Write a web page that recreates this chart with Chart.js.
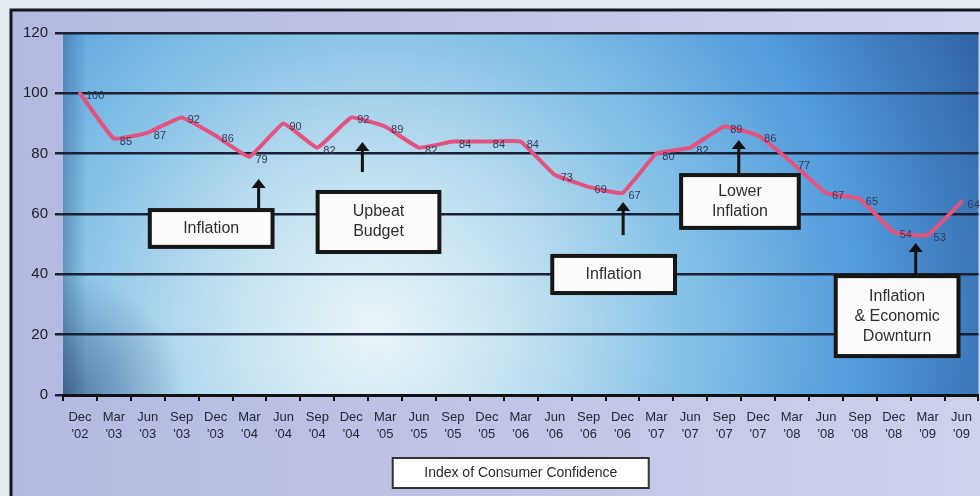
<!DOCTYPE html>
<html>
<head>
<meta charset="utf-8">
<script src="https://cdn.jsdelivr.net/npm/chart.js@4.4.1/dist/chart.umd.min.js"></script>
<style>
    html, body { margin: 0; padding: 0; background: #e3eaf1; }
</style>
</head>
<body>
<canvas id="confidence-chart" width="980" height="496"></canvas>
<script>
const months = ["Dec", "Mar", "Jun", "Sep", "Dec", "Mar", "Jun", "Sep", "Dec", "Mar", "Jun", "Sep", "Dec", "Mar",
    "Jun", "Sep", "Dec", "Mar", "Jun", "Sep", "Dec", "Mar", "Jun", "Sep", "Dec", "Mar", "Jun"];
const years = ["'02", "'03", "'03", "'03", "'03", "'04", "'04", "'04", "'04", "'05", "'05", "'05", "'05", "'06",
    "'06", "'06", "'06", "'07", "'07", "'07", "'07", "'08", "'08", "'08", "'08", "'09", "'09"];
const confidence = [100, 85, 87, 92, 86, 79, 90, 82, 92, 89, 82, 84, 84, 84, 73, 69, 67, 80, 82, 89, 86, 77, 67, 65, 54, 53, 64];
const seriesName = "Index of Consumer Confidence";

// callout boxes, placed in axis units (category index / index value)
const notes = [
    { lines: ["Inflation"], from: 2.06, to: 5.68, top: 61.3, bottom: 49.1, arrowAt: 5.27, arrowFrom: 61.3, arrowTo: 71.6 },
    { lines: ["Upbeat", "Budget"], from: 7.01, to: 10.6, top: 67.3, bottom: 47.4, arrowAt: 8.33, arrowFrom: 73.9, arrowTo: 83.9 },
    { lines: ["Inflation"], from: 13.93, to: 17.55, top: 46.1, bottom: 33.8, arrowAt: 16.02, arrowFrom: 53.0, arrowTo: 64.0 },
    { lines: ["Lower", "Inflation"], from: 17.73, to: 21.2, top: 72.9, bottom: 55.4, arrowAt: 19.43, arrowFrom: 72.9, arrowTo: 84.5 },
    { lines: ["Inflation", "& Economic", "Downturn"], from: 22.29, to: 25.91, top: 39.4, bottom: 12.9, arrowAt: 24.65, arrowFrom: 39.4, arrowTo: 50.4 }
];

const fontFamily = "'Liberation Sans', Arial, sans-serif";

const backdrop = {
    id: "backdrop",
    beforeDraw(chart) {
        const ctx = chart.ctx;
        const a = chart.chartArea;
        const w = a.right - a.left;
        const h = a.bottom - a.top;
        ctx.save();
        ctx.fillStyle = "#e3eaf1";
        ctx.fillRect(0, 0, chart.width, chart.height);

        const lav = ctx.createLinearGradient(11, 0, chart.width, 0);
        lav.addColorStop(0, "#b3b9e1");
        lav.addColorStop(1, "#cdd1ea");
        ctx.fillStyle = lav;
        ctx.fillRect(11, 10, chart.width - 11, chart.height - 10);

        ctx.strokeStyle = "#15171f";
        ctx.lineWidth = 3;
        ctx.beginPath();
        ctx.moveTo(11, chart.height);
        ctx.lineTo(11, 10);
        ctx.lineTo(chart.width, 10);
        ctx.stroke();

        const cx = a.left + w * 0.34;
        const cy = a.top + h * 0.82;
        const glow = ctx.createRadialGradient(cx, cy, 0, cx, cy, 700);
        glow.addColorStop(0, "#e9f4f8");
        glow.addColorStop(0.2, "#c6e3f1");
        glow.addColorStop(0.45, "#84c1e7");
        glow.addColorStop(0.7, "#519adc");
        glow.addColorStop(1, "#2b5b9c");
        ctx.fillStyle = glow;
        ctx.fillRect(a.left, a.top, w, h);

        // darker corner at the bottom left
        const corner = ctx.createRadialGradient(a.left, a.bottom, 0, a.left, a.bottom, 120);
        corner.addColorStop(0, "rgba(35,60,105,0.55)");
        corner.addColorStop(1, "rgba(35,60,105,0)");
        ctx.fillStyle = corner;
        ctx.fillRect(a.left, a.top, w, h);

        const shade = ctx.createLinearGradient(a.left, 0, a.left + 24, 0);
        shade.addColorStop(0, "rgba(25,50,95,0.3)");
        shade.addColorStop(1, "rgba(25,50,95,0)");
        ctx.fillStyle = shade;
        ctx.fillRect(a.left, a.top, 24, h);
        ctx.restore();
    }
};

const pointLabels = {
    id: "pointLabels",
    afterDatasetsDraw(chart) {
        const ctx = chart.ctx;
        const meta = chart.getDatasetMeta(0);
        ctx.save();
        ctx.font = "11px " + fontFamily;
        ctx.fillStyle = "#353a55";
        ctx.textAlign = "left";
        ctx.textBaseline = "middle";
        meta.data.forEach((pt, i) => {
            ctx.fillText(String(confidence[i]), pt.x + 6, pt.y + 3);
        });
        ctx.restore();
    }
};

const callouts = {
    id: "callouts",
    afterDraw(chart) {
        const ctx = chart.ctx;
        const xs = chart.scales.x;
        const ys = chart.scales.y;
        ctx.save();
        notes.forEach(n => {
            const left = xs.getPixelForValue(n.from);
            const right = xs.getPixelForValue(n.to);
            const top = ys.getPixelForValue(n.top);
            const bottom = ys.getPixelForValue(n.bottom);

            // arrow
            const ax = xs.getPixelForValue(n.arrowAt);
            const a0 = ys.getPixelForValue(n.arrowFrom);
            const a1 = ys.getPixelForValue(n.arrowTo);
            ctx.strokeStyle = "#111";
            ctx.fillStyle = "#111";
            ctx.lineWidth = 3;
            ctx.beginPath();
            ctx.moveTo(ax, a0);
            ctx.lineTo(ax, a1 + 8);
            ctx.stroke();
            ctx.beginPath();
            ctx.moveTo(ax, a1);
            ctx.lineTo(ax - 7, a1 + 9);
            ctx.lineTo(ax + 7, a1 + 9);
            ctx.closePath();
            ctx.fill();

            // box
            ctx.fillStyle = "#fbfbfb";
            ctx.fillRect(left, top, right - left, bottom - top);
            ctx.lineWidth = 4;
            ctx.strokeStyle = "#161616";
            ctx.strokeRect(left, top, right - left, bottom - top);

            ctx.fillStyle = "#2e2e2e";
            ctx.font = "16px " + fontFamily;
            ctx.textAlign = "center";
            ctx.textBaseline = "middle";
            const lh = 20;
            const midY = (top + bottom) / 2;
            const startY = midY - (n.lines.length - 1) * lh / 2;
            n.lines.forEach((t, k) => ctx.fillText(t, (left + right) / 2, startY + k * lh));
        });

        // legend box
        const a = chart.chartArea;
        const lx = (a.left + a.right) / 2;
        const bw = 256, bh = 30;
        const by = a.bottom + 63;
        ctx.fillStyle = "#ffffff";
        ctx.fillRect(lx - bw / 2, by, bw, bh);
        ctx.lineWidth = 2;
        ctx.strokeStyle = "#333";
        ctx.strokeRect(lx - bw / 2, by, bw, bh);
        ctx.fillStyle = "#2a2a2a";
        ctx.font = "14px " + fontFamily;
        ctx.textAlign = "center";
        ctx.textBaseline = "middle";
        ctx.fillText(chart.data.datasets[0].label, lx, by + bh / 2);
        ctx.restore();
    }
};

const confidenceChart = new Chart(document.getElementById("confidence-chart").getContext("2d"), {
    type: "line",
    data: {
        labels: months.map((m, i) => [m, years[i]]),
        datasets: [
            {
                label: seriesName,
                data: confidence,
                borderColor: "#e4527e",
                borderWidth: 4,
                pointRadius: 0,
                tension: 0.1,
                borderJoinStyle: "round",
                borderCapStyle: "round",
                fill: false
            }
        ]
    },
    options: {
        responsive: false,
        animation: false,
        layout: {
            padding: { top: 33, right: 0, bottom: 0, left: 0 }
        },
        plugins: {
            legend: { display: false },
            tooltip: { enabled: false }
        },
        scales: {
            x: {
                type: "category",
                offset: true,
                afterFit(scale) { scale.height = 101; },
                border: { display: true, color: "#111", width: 3 },
                grid: {
                    offset: true,
                    drawOnChartArea: false,
                    drawTicks: true,
                    tickLength: 6,
                    color: "#111",
                    lineWidth: 2
                },
                ticks: {
                    autoSkip: false,
                    maxRotation: 0,
                    padding: 8,
                    color: "#262838",
                    font: { family: fontFamily, size: 13, lineHeight: 1.3 }
                }
            },
            y: {
                min: 0,
                max: 120,
                afterFit(scale) { scale.width = 63; },
                border: { display: false },
                grid: {
                    color: "#1b2035",
                    lineWidth: 2.5,
                    drawTicks: true,
                    tickLength: 8
                },
                ticks: {
                    stepSize: 20,
                    padding: 7,
                    color: "#222",
                    font: { family: fontFamily, size: 15 }
                }
            }
        }
    },
    plugins: [backdrop, pointLabels, callouts]
});
</script>
</body>
</html>
